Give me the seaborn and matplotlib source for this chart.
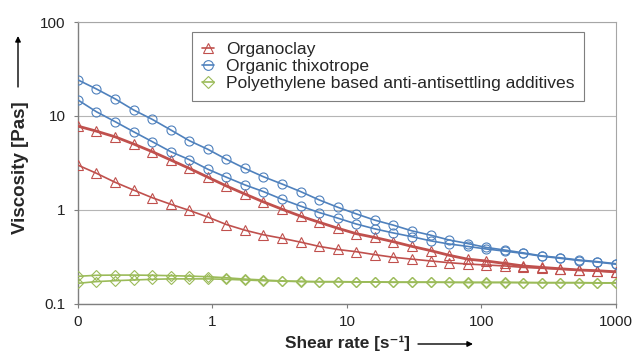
import matplotlib
matplotlib.use("Agg")
import matplotlib.pyplot as plt
import seaborn as sns
import pandas as pd
from matplotlib.ticker import FixedLocator, FixedFormatter, NullLocator
from matplotlib.lines import Line2D

# ---------------- data ----------------
shear_rate = [0.1, 0.137, 0.189, 0.259, 0.357, 0.49, 0.673, 0.925, 1.27, 1.74,
              2.39, 3.29, 4.52, 6.21, 8.53, 11.7, 16.1, 22.1, 30.4, 41.8,
              57.4, 78.8, 108, 149, 204, 281, 386, 530, 728, 1000]

organoclay_hi = [7.8, 6.9, 6.0, 5.04, 4.17, 3.40, 2.77, 2.23, 1.80, 1.48,
                 1.22, 1.02, 0.86, 0.74, 0.64, 0.56, 0.51, 0.46, 0.41, 0.37,
                 0.33, 0.30, 0.287, 0.27, 0.254, 0.245, 0.237, 0.23, 0.226, 0.22]
organoclay_lo = [3.0, 2.46, 1.97, 1.63, 1.35, 1.15, 0.99, 0.84, 0.70, 0.61,
                 0.545, 0.50, 0.455, 0.41, 0.38, 0.36, 0.335, 0.314, 0.30, 0.287,
                 0.275, 0.266, 0.26, 0.254, 0.245, 0.24, 0.235, 0.23, 0.225, 0.218]
thixotrope_hi = [24.2, 19.4, 15.2, 11.6, 9.2, 7.1, 5.46, 4.42, 3.46, 2.77,
                 2.26, 1.89, 1.57, 1.28, 1.07, 0.91, 0.78, 0.69, 0.60, 0.54,
                 0.48, 0.44, 0.40, 0.375, 0.35, 0.325, 0.31, 0.294, 0.282, 0.268]
thixotrope_lo = [14.8, 11.1, 8.7, 6.8, 5.33, 4.17, 3.43, 2.71, 2.23, 1.85,
                 1.57, 1.30, 1.10, 0.94, 0.82, 0.71, 0.63, 0.57, 0.52, 0.47,
                 0.435, 0.41, 0.385, 0.365, 0.345, 0.322, 0.306, 0.29, 0.279, 0.265]
polyethylene_hi = [0.197, 0.202, 0.203, 0.203, 0.202, 0.200, 0.198, 0.195, 0.190, 0.184,
                   0.180, 0.176, 0.174, 0.173, 0.173, 0.172, 0.172, 0.171, 0.171, 0.171,
                   0.170, 0.170, 0.170, 0.170, 0.169, 0.169, 0.169, 0.169, 0.168, 0.168]
polyethylene_lo = [0.166, 0.173, 0.177, 0.180, 0.183, 0.185, 0.185, 0.185, 0.183, 0.180,
                   0.177, 0.175, 0.173, 0.172, 0.172, 0.171, 0.171, 0.170, 0.170, 0.170,
                   0.170, 0.169, 0.169, 0.169, 0.169, 0.168, 0.168, 0.168, 0.167, 0.167]

legend_labels = ["Organoclay", "Organic thixotrope",
                 "Polyethylene based anti-antisettling additives"]

x_tick_values = [0.1, 1, 10, 100, 1000]
x_tick_labels = ["0", "1", "10", "100", "1000"]
y_tick_values = [0.1, 1, 10, 100]
y_tick_labels = ["0.1", "1", "10", "100"]

# ---------------- style ----------------
sns.set_style("white")
plt.rcParams['font.family'] = ['Liberation Sans', 'DejaVu Sans']

RED = "#c0504d"
BLUE = "#4f81bd"
GREEN = "#9bbb59"

fig = plt.figure(figsize=(6.35, 3.52), dpi=100)
ax = fig.add_axes([0.1228, 0.1364, 0.8472, 0.8011])

series = [
    (polyethylene_hi, GREEN, "D", 1.2),
    (polyethylene_lo, GREEN, "D", 1.2),
    (organoclay_lo, RED, "^", 1.2),
    (organoclay_hi, RED, "^", 2.0),
    (thixotrope_lo, BLUE, "o", 1.2),
    (thixotrope_hi, BLUE, "o", 1.2),
]
msize = {"D": 5.5, "^": 6.5, "o": 6.5}
for vals, col, mk, lw in series:
    df = pd.DataFrame({"x": shear_rate, "y": vals})
    sns.lineplot(data=df, x="x", y="y", ax=ax, color=col, linewidth=lw,
                 marker=mk, markersize=msize[mk], markerfacecolor="none",
                 markeredgecolor=col, markeredgewidth=0.8, legend=False,
                 zorder=3)

ax.set_xscale("log")
ax.set_yscale("log")
ax.set_xlim(0.1, 1000)
ax.set_ylim(0.1, 100)
ax.xaxis.set_major_locator(FixedLocator(x_tick_values))
ax.xaxis.set_major_formatter(FixedFormatter(x_tick_labels))
ax.xaxis.set_minor_locator(NullLocator())
ax.yaxis.set_major_locator(FixedLocator(y_tick_values))
ax.yaxis.set_major_formatter(FixedFormatter(y_tick_labels))
ax.yaxis.set_minor_locator(NullLocator())
ax.set_xlabel("")
ax.set_ylabel("")

ax.yaxis.grid(True, color="#b5b5b5", linewidth=0.8)
ax.xaxis.grid(False)
ax.set_axisbelow(True)

for s in ["left", "bottom"]:
    ax.spines[s].set_color("#7f7f7f")
    ax.spines[s].set_linewidth(1.0)
for s in ["top", "right"]:
    ax.spines[s].set_color("#a6a6a6")
    ax.spines[s].set_linewidth(0.8)

ax.tick_params(axis="both", which="major", direction="out", length=3,
               width=0.8, color="#7f7f7f", labelsize=11, labelcolor="#222222",
               bottom=True, left=True)
ax.tick_params(axis="y", pad=6)
ax.tick_params(axis="x", pad=5)

# legend
handles = [
    Line2D([], [], color=RED, marker="^", markersize=7, markerfacecolor="none",
           markeredgewidth=0.8, linewidth=1.2),
    Line2D([], [], color=BLUE, marker="o", markersize=7, markerfacecolor="none",
           markeredgewidth=0.8, linewidth=1.2),
    Line2D([], [], color=GREEN, marker="D", markersize=6, markerfacecolor="none",
           markeredgewidth=0.8, linewidth=1.2),
]
leg = ax.legend(handles, legend_labels, loc="upper left",
                bbox_to_anchor=(0.212, 0.965), borderaxespad=0,
                fontsize=12.6, handlelength=0.7, handletextpad=0.7,
                labelspacing=0.12, borderpad=0.55, frameon=True, fancybox=False,
                framealpha=1)
leg.get_frame().set_edgecolor("#7f7f7f")
leg.get_frame().set_linewidth(0.8)

# axis titles with arrows
fig.text(21 / 635, 1 - 168 / 352, "Viscosity [Pas]", rotation=90,
         ha="center", va="center", fontsize=13.5, fontweight="bold")
fig.text(347.5 / 635, 1 - 343 / 352, "Shear rate [s\u207b\u00b9]",
         ha="center", va="center", fontsize=12.4, fontweight="bold")
ax.annotate("", xy=(18 / 635, 1 - 36 / 352), xytext=(18 / 635, 1 - 87 / 352),
            xycoords="figure fraction", textcoords="figure fraction",
            arrowprops=dict(arrowstyle="-|>", color="black", lw=1.0,
                            mutation_scale=8, shrinkA=0, shrinkB=0))
ax.annotate("", xy=(473 / 635, 1 - 344 / 352), xytext=(418 / 635, 1 - 344 / 352),
            xycoords="figure fraction", textcoords="figure fraction",
            arrowprops=dict(arrowstyle="-|>", color="black", lw=1.0,
                            mutation_scale=8, shrinkA=0, shrinkB=0))

fig.savefig("out.png", dpi=100)
